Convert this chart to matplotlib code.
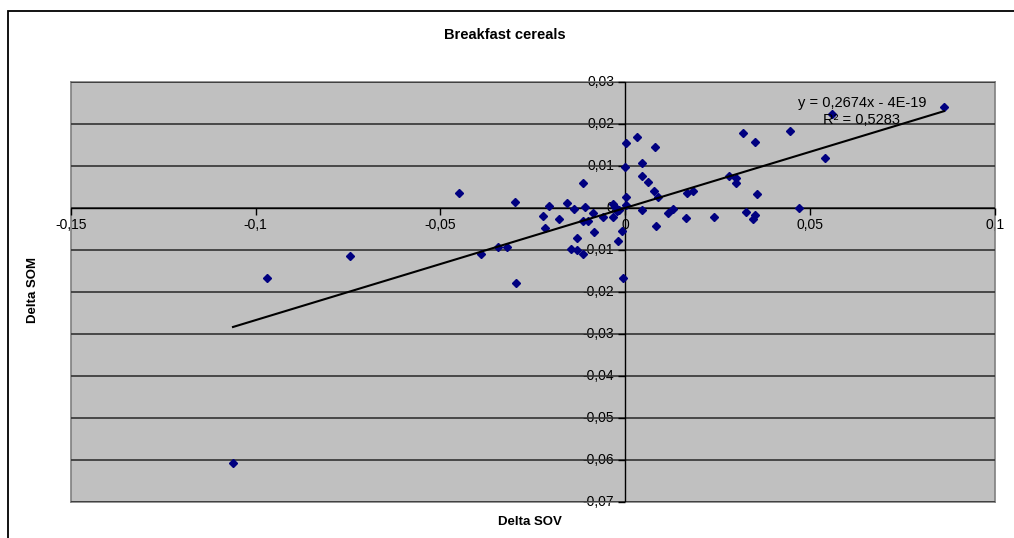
import matplotlib
matplotlib.use("Agg")
import matplotlib.pyplot as plt
from matplotlib import markers
from matplotlib.patches import Rectangle
import numpy as np

plt.rcParams['font.family'] = ['Liberation Sans', 'DejaVu Sans']

# Delta SOV (x) and Delta SOM (y)
delta_sov = [-0.1061, -0.0970, -0.0745, -0.0449, -0.0391, -0.0344, -0.0319, -0.0298,
             -0.0296, -0.0223, -0.0217, -0.0207, -0.0180, -0.0157, -0.0147, -0.0139,
             -0.0130, -0.0130, -0.0115, -0.0115, -0.0114, -0.0109, -0.0102, -0.0088,
             -0.0085, -0.0061, -0.0034, -0.0032, -0.0028, -0.0023, -0.0021, -0.0016,
             -0.0008, -0.0007, -0.0001, 0.0001, 0.0002, 0.0001, 0.0032, 0.0044,
             0.0044, 0.0044, 0.0062, 0.0078, 0.0080, 0.0082, 0.0088, 0.0115,
             0.0130, 0.0164, 0.0168, 0.0184, 0.0241, 0.0281, 0.0299, 0.0299,
             0.0319, 0.0326, 0.0346, 0.0351, 0.0351, 0.0355, 0.0445, 0.0471,
             0.0540, 0.0558, 0.0862]
delta_som = [-0.0607, -0.0166, -0.0114, 0.0035, -0.0110, -0.0092, -0.0092, 0.0015,
             -0.0178, -0.0019, -0.0048, 0.0005, -0.0026, 0.0011, -0.0098, -0.0002,
             -0.0071, -0.0100, 0.0060, -0.0030, -0.0110, 0.0001, -0.0031, -0.0011,
             -0.0058, -0.0022, -0.0021, 0.0010, 0.0003, -0.0007, -0.0078, -0.0005,
             -0.0056, -0.0166, 0.0097, 0.0025, 0.0006, 0.0155, 0.0168, 0.0106,
             0.0075, -0.0005, 0.0061, 0.0040, 0.0145, -0.0044, 0.0027, -0.0011,
             -0.0002, -0.0024, 0.0035, 0.0041, -0.0021, 0.0077, 0.0072, 0.0059,
             0.0179, -0.0009, -0.0027, 0.0156, -0.0017, 0.0033, 0.0184, -0.0001,
             0.0118, 0.0224, 0.0241]

slope = 0.2674
intercept = -4e-19
r2_text = "0,5283"

x_ticks = [-0.15, -0.1, -0.05, 0, 0.05, 0.1]
x_labels = ["-0,15", "-0,1", "-0,05", "0", "0,05", "0,1"]
y_ticks = [0.03, 0.02, 0.01, 0, -0.01, -0.02, -0.03, -0.04, -0.05, -0.06, -0.07]
y_labels = ["0,03", "0,02", "0,01", "0", "-0,01", "-0,02", "-0,03", "-0,04",
            "-0,05", "-0,06", "-0,07"]

W, H = 1014, 538
fig = plt.figure(figsize=(W / 100, H / 100), dpi=100)

# chart area border (runs past the bottom/right of the image)
fig.patches.append(Rectangle((8 / W, -0.1), 1.2, 1 - 10.7 / H + 0.1,
                             transform=fig.transFigure, fill=False,
                             edgecolor='black', lw=1.3))

ax = fig.add_axes([70.7 / W, 1 - 501.7 / H, (995 - 70.7) / W, (501.7 - 82) / H])
ax.set_facecolor('#C0C0C0')
for s in ax.spines.values():
    s.set_color('#808080')
    s.set_linewidth(1.2)
ax.set_xlim(-0.15, 0.1)
ax.set_ylim(-0.07, 0.03)
ax.set_xticks([])
ax.set_yticks([])

# horizontal gridlines
for v in y_ticks:
    ax.axhline(v, color='#333333', lw=1.2, zorder=3)

# axes crossing at zero
ax.axhline(0, color='black', lw=1.0, zorder=4)
ax.axvline(0, color='black', lw=1.0, zorder=4)
ax.plot(np.zeros(len(y_ticks)), y_ticks, ls='none', marker=markers.TICKLEFT,
        ms=5, mew=1, color='black', zorder=4, clip_on=False)
ax.plot(x_ticks, np.zeros(len(x_ticks)), ls='none', marker=markers.TICKDOWN,
        ms=5, mew=1, color='black', zorder=4, clip_on=False)

# tick labels
for v, lab in zip(y_ticks, y_labels):
    ax.annotate(lab, (0, v), xytext=(-8, 0), textcoords='offset points',
                ha='right', va='center', fontsize=10, color='black', zorder=2)
for v, lab in zip(x_ticks, x_labels):
    ax.annotate(lab, (v, 0), xytext=(0, -7), textcoords='offset points',
                ha='center', va='top', fontsize=10, color='black', zorder=2)

# data
ax.plot(delta_sov, delta_som, ls='none', marker='D', ms=3.8, color='#000080',
        zorder=5)

# linear trendline
xs = np.array([min(delta_sov), max(delta_sov)])
ax.plot(xs, slope * xs + intercept, color='black', lw=1.5, zorder=6)
ax.text(0.0640, 0.0250, "y = 0,2674x - 4E-19", ha='center', va='center',
        fontsize=10.5, zorder=7)
ax.text(0.0640, 0.0210, "R² = " + r2_text, ha='center', va='center',
        fontsize=10.5, zorder=7)

fig.text(505 / W, 1 - 35 / H, "Breakfast cereals", ha='center', va='center',
         fontsize=10.5, fontweight='bold')
fig.text(530 / W, 1 - 522 / H, "Delta SOV", ha='center', va='center',
         fontsize=9.5, fontweight='bold')
fig.text(33 / W, 1 - 290 / H, "Delta SOM", ha='center', va='center',
         rotation=90, fontsize=9.5, fontweight='bold')

fig.savefig("out.png", dpi=100)
